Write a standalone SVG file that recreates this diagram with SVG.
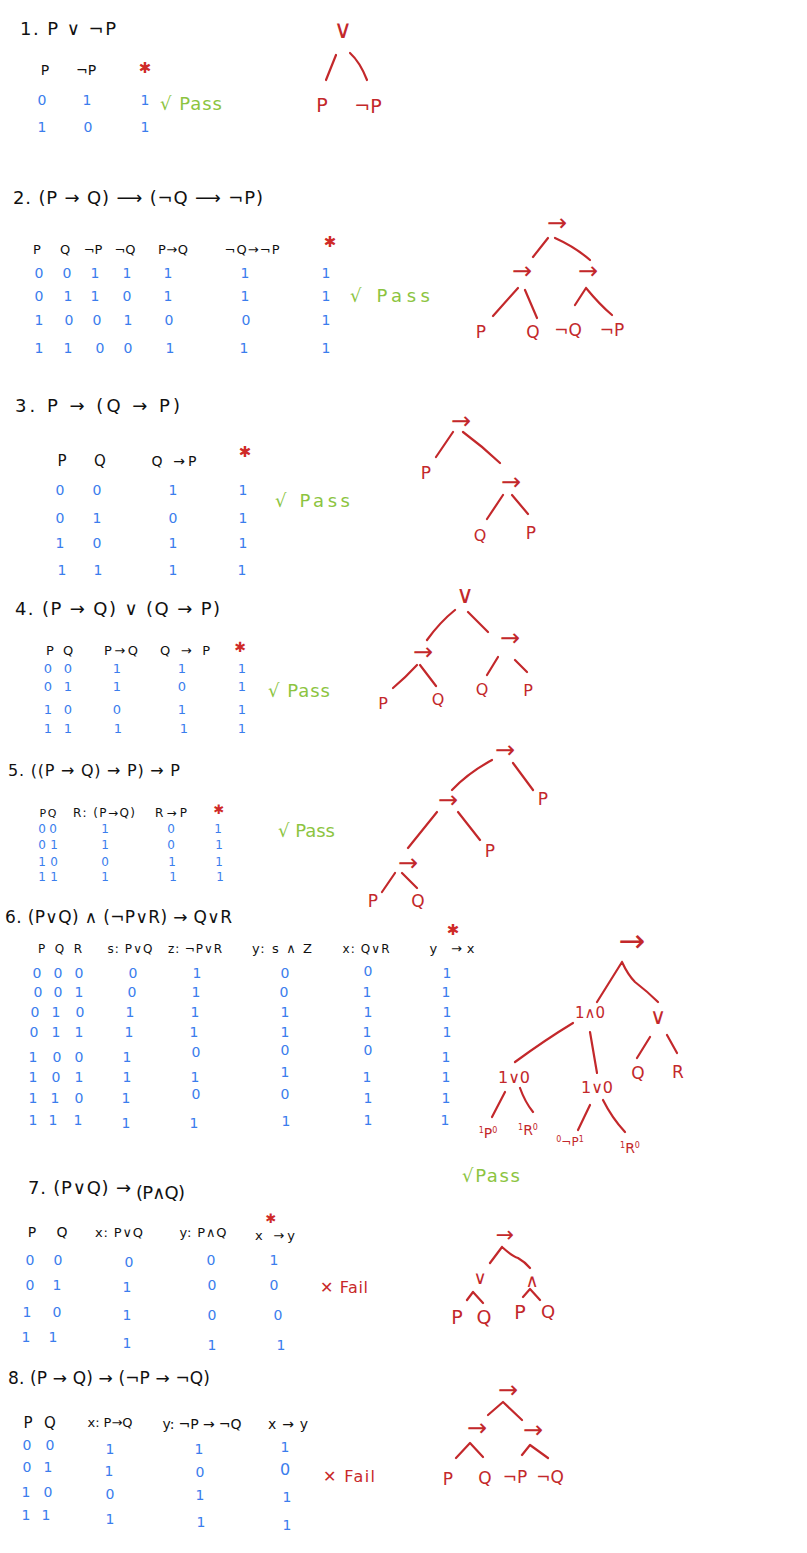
<svg xmlns="http://www.w3.org/2000/svg" width="807" height="1553" viewBox="0 0 807 1553">
<style>
text{font-family:"DejaVu Sans","Liberation Sans",sans-serif}
.t{fill:#111;font-size:18px}
.h{fill:#111;font-size:13px;text-anchor:middle}
.d{fill:#3b7ded;font-size:14px;text-anchor:middle}
.s{fill:#cf2a28;font-size:15px;text-anchor:middle}
.p{fill:#8cc43f;font-size:18px}
.f{fill:#c8282a;font-size:16px}
.n{fill:#c3282b;font-size:17px;text-anchor:middle}
.a{fill:#c3282b;font-size:24px;text-anchor:middle}
.e{stroke:#c3282b;stroke-width:2.2;fill:none;stroke-linecap:round;stroke-linejoin:round}
</style>
<rect width="807" height="1553" fill="#fff"/>

<!-- Section 1 -->
<g id="sec1">
<text class="t" x="20" y="35" textLength="96">1.  P ∨ ¬P</text>
<text class="h" x="45" y="75" style="font-size:14px">P</text>
<text class="h" x="86" y="75" style="font-size:14px">¬P</text>
<text class="s" x="145" y="73">✱</text>
<text class="d" x="42" y="105">0</text><text class="d" x="87" y="105">1</text><text class="d" x="145" y="105">1</text>
<text class="d" x="42" y="132">1</text><text class="d" x="88" y="132">0</text><text class="d" x="145" y="132">1</text>
<text class="p" x="160" y="110" textLength="62">√ Pass</text>
</g>

<!-- Section 2 -->
<g id="sec2">
<text class="t" x="13" y="204" textLength="250">2. (P → Q) ⟶ (¬Q ⟶ ¬P)</text>
<text class="h" x="37" y="254">P</text><text class="h" x="65" y="254">Q</text><text class="h" x="93" y="254">¬P</text><text class="h" x="125" y="254">¬Q</text>
<text class="h" x="173" y="254" textLength="30">P→Q</text><text class="h" x="252" y="254" textLength="55">¬Q→¬P</text>
<text class="s" x="330" y="247">✱</text>
<text class="d" x="39" y="278">0</text><text class="d" x="67" y="278">0</text><text class="d" x="95" y="278">1</text><text class="d" x="127" y="278">1</text><text class="d" x="168" y="278">1</text><text class="d" x="245" y="278">1</text><text class="d" x="326" y="278">1</text>
<text class="d" x="39" y="301">0</text><text class="d" x="68" y="301">1</text><text class="d" x="95" y="301">1</text><text class="d" x="127" y="301">0</text><text class="d" x="168" y="301">1</text><text class="d" x="245" y="301">1</text><text class="d" x="326" y="301">1</text>
<text class="d" x="39" y="325">1</text><text class="d" x="69" y="325">0</text><text class="d" x="97" y="325">0</text><text class="d" x="128" y="325">1</text><text class="d" x="169" y="325">0</text><text class="d" x="246" y="325">0</text><text class="d" x="326" y="325">1</text>
<text class="d" x="39" y="353">1</text><text class="d" x="68" y="353">1</text><text class="d" x="100" y="353">0</text><text class="d" x="128" y="353">0</text><text class="d" x="170" y="353">1</text><text class="d" x="244" y="353">1</text><text class="d" x="326" y="353">1</text>
<text class="p" x="350" y="302" textLength="80">√ Pass</text>
</g>

<!-- Section 3 -->
<g id="sec3">
<text class="t" x="15" y="412" textLength="165">3.  P → (Q → P)</text>
<text class="h" x="62" y="466" style="font-size:15px">P</text><text class="h" x="100" y="466" style="font-size:15px">Q</text>
<text class="h" x="174" y="466" style="font-size:14px" textLength="45">Q →P</text>
<text class="s" x="245" y="457">✱</text>
<text class="d" x="60" y="495">0</text><text class="d" x="97" y="495">0</text><text class="d" x="173" y="495">1</text><text class="d" x="243" y="495">1</text>
<text class="d" x="60" y="523">0</text><text class="d" x="97" y="523">1</text><text class="d" x="173" y="523">0</text><text class="d" x="243" y="523">1</text>
<text class="d" x="60" y="548">1</text><text class="d" x="97" y="548">0</text><text class="d" x="173" y="548">1</text><text class="d" x="243" y="548">1</text>
<text class="d" x="62" y="575">1</text><text class="d" x="98" y="575">1</text><text class="d" x="173" y="575">1</text><text class="d" x="242" y="575">1</text>
<text class="p" x="275" y="507" textLength="75">√  Pass</text>
</g>

<!-- Section 4 -->
<g id="sec4">
<text class="t" x="15" y="615" textLength="205">4.  (P → Q)  ∨  (Q → P)</text>
<text class="h" x="50" y="655">P</text><text class="h" x="68" y="655">Q</text>
<text class="h" x="121" y="655" textLength="34">P→Q</text><text class="h" x="185" y="655" textLength="50">Q → P</text>
<text class="s" x="240" y="652" style="font-size:14px">✱</text>
<g class="d" style="font-size:13px">
<text x="48" y="673">0</text><text x="68" y="673">0</text><text x="117" y="673">1</text><text x="182" y="673">1</text><text x="242" y="673">1</text>
<text x="48" y="691">0</text><text x="68" y="691">1</text><text x="117" y="691">1</text><text x="182" y="691">0</text><text x="242" y="691">1</text>
<text x="48" y="714">1</text><text x="68" y="714">0</text><text x="117" y="714">0</text><text x="182" y="714">1</text><text x="242" y="714">1</text>
<text x="48" y="733">1</text><text x="68" y="733">1</text><text x="118" y="733">1</text><text x="184" y="733">1</text><text x="242" y="733">1</text>
</g>
<text class="p" x="268" y="697" textLength="62">√ Pass</text>
</g>

<!-- Section 5 -->
<g id="sec5">
<text class="t" x="8" y="776" style="font-size:16px" textLength="172">5.  ((P → Q) → P) → P</text>
<text class="h" x="48" y="817" style="font-size:11px" textLength="17">P Q</text>
<text class="h" x="104" y="817" style="font-size:12px" textLength="62">R: (P→Q)</text>
<text class="h" x="171" y="817" style="font-size:12px" textLength="32">R→P</text>
<text class="s" x="219" y="814" style="font-size:13px">✱</text>
<g class="d" style="font-size:12px">
<text x="42" y="833">0</text><text x="53" y="833">0</text><text x="105" y="833">1</text><text x="171" y="833">0</text><text x="218" y="833">1</text>
<text x="42" y="849">0</text><text x="54" y="849">1</text><text x="105" y="849">1</text><text x="171" y="849">0</text><text x="219" y="849">1</text>
<text x="42" y="866">1</text><text x="54" y="866">0</text><text x="105" y="866">0</text><text x="172" y="866">1</text><text x="219" y="866">1</text>
<text x="42" y="881">1</text><text x="54" y="881">1</text><text x="105" y="881">1</text><text x="173" y="881">1</text><text x="220" y="881">1</text>
</g>
<text class="p" x="278" y="837" textLength="57">√ Pass</text>
</g>

<!-- Section 6 -->
<g id="sec6">
<text class="t" x="5" y="923" style="font-size:17px" textLength="227">6.  (P∨Q) ∧ (¬P∨R) → Q∨R</text>
<text class="h" x="60" y="953" style="font-size:12px" textLength="44">P Q R</text>
<text class="h" x="130" y="953" style="font-size:12px" textLength="45">s: P∨Q</text>
<text class="h" x="195" y="953" style="font-size:12px" textLength="54">z: ¬P∨R</text>
<text class="h" x="282" y="953" style="font-size:13px" textLength="60">y: s ∧ Z</text>
<text class="h" x="366" y="953" style="font-size:12px" textLength="47">x: Q∨R</text>
<text class="h" x="452" y="953" style="font-size:13px" textLength="45">y →x</text>
<text class="s" x="453" y="935">✱</text>
<g class="d" style="font-size:14px">
<text x="37" y="978">0</text><text x="58" y="978">0</text><text x="79" y="978">0</text><text x="133" y="978">0</text><text x="197" y="978">1</text><text x="285" y="978">0</text><text x="368" y="976">0</text><text x="447" y="978">1</text>
<text x="38" y="997">0</text><text x="58" y="997">0</text><text x="79" y="997">1</text><text x="132" y="997">0</text><text x="196" y="997">1</text><text x="284" y="997">0</text><text x="367" y="997">1</text><text x="446" y="997">1</text>
<text x="35" y="1017">0</text><text x="56" y="1017">1</text><text x="80" y="1017">0</text><text x="130" y="1017">1</text><text x="195" y="1017">1</text><text x="285" y="1017">1</text><text x="368" y="1017">1</text><text x="447" y="1017">1</text>
<text x="34" y="1037">0</text><text x="56" y="1037">1</text><text x="79" y="1037">1</text><text x="129" y="1037">1</text><text x="194" y="1037">1</text><text x="285" y="1037">1</text><text x="367" y="1037">1</text><text x="447" y="1037">1</text>
<text x="33" y="1062">1</text><text x="57" y="1062">0</text><text x="79" y="1062">0</text><text x="127" y="1062">1</text><text x="196" y="1057">0</text><text x="285" y="1055">0</text><text x="368" y="1055">0</text><text x="446" y="1062">1</text>
<text x="33" y="1082">1</text><text x="56" y="1082">0</text><text x="79" y="1082">1</text><text x="127" y="1082">1</text><text x="195" y="1082">1</text><text x="285" y="1077">1</text><text x="367" y="1082">1</text><text x="446" y="1082">1</text>
<text x="33" y="1103">1</text><text x="55" y="1103">1</text><text x="79" y="1103">0</text><text x="126" y="1103">1</text><text x="196" y="1099">0</text><text x="285" y="1099">0</text><text x="368" y="1103">1</text><text x="446" y="1103">1</text>
<text x="33" y="1125">1</text><text x="53" y="1125">1</text><text x="78" y="1125">1</text><text x="126" y="1128">1</text><text x="194" y="1128">1</text><text x="286" y="1126">1</text><text x="368" y="1125">1</text><text x="445" y="1125">1</text>
</g>
<text class="p" x="462" y="1182" textLength="58">√Pass</text>
</g>

<!-- Section 7 -->
<g id="sec7">
<text class="t" x="28" y="1194" style="font-size:18px" textLength="103">7.   (P∨Q) →</text>
<text class="t" x="136" y="1199" style="font-size:18px" textLength="49">(P∧Q)</text>
<text class="h" x="32" y="1237" style="font-size:14px">P</text><text class="h" x="62" y="1237" style="font-size:14px">Q</text>
<text class="h" x="119" y="1237" style="font-size:13px" textLength="48">x: P∨Q</text>
<text class="h" x="203" y="1237" style="font-size:13px" textLength="47">y: P∧Q</text>
<text class="h" x="275" y="1240" style="font-size:13px" textLength="40">x →y</text>
<text class="s" x="271" y="1223" style="font-size:13px">✱</text>
<text class="d" x="30" y="1265">0</text><text class="d" x="58" y="1265">0</text><text class="d" x="129" y="1267">0</text><text class="d" x="211" y="1265">0</text><text class="d" x="274" y="1265">1</text>
<text class="d" x="30" y="1290">0</text><text class="d" x="57" y="1290">1</text><text class="d" x="127" y="1292">1</text><text class="d" x="212" y="1290">0</text><text class="d" x="274" y="1290">0</text>
<text class="d" x="27" y="1317">1</text><text class="d" x="57" y="1317">0</text><text class="d" x="127" y="1320">1</text><text class="d" x="212" y="1320">0</text><text class="d" x="278" y="1320">0</text>
<text class="d" x="26" y="1342">1</text><text class="d" x="53" y="1342">1</text><text class="d" x="127" y="1348">1</text><text class="d" x="212" y="1350">1</text><text class="d" x="281" y="1350">1</text>
<text class="f" x="320" y="1293" textLength="48">✕ Fail</text>
</g>

<!-- Section 8 -->
<g id="sec8">
<text class="t" x="8" y="1384" style="font-size:17px" textLength="202">8.   (P → Q) → (¬P → ¬Q)</text>
<text class="h" x="28" y="1428" style="font-size:15px">P</text><text class="h" x="50" y="1428" style="font-size:15px">Q</text>
<text class="h" x="110" y="1427" style="font-size:13px" textLength="45">x: P→Q</text>
<text class="h" x="202" y="1429" style="font-size:14px" textLength="79">y: ¬P → ¬Q</text>
<text class="h" x="288" y="1429" style="font-size:14px" textLength="40">x→y</text>
<text class="d" x="27" y="1450">0</text><text class="d" x="50" y="1450">0</text><text class="d" x="110" y="1454">1</text><text class="d" x="199" y="1454">1</text><text class="d" x="285" y="1452">1</text>
<text class="d" x="27" y="1472">0</text><text class="d" x="48" y="1472">1</text><text class="d" x="109" y="1476">1</text><text class="d" x="200" y="1477">0</text><text class="d" x="285" y="1475" style="font-size:16px">0</text>
<text class="d" x="26" y="1497">1</text><text class="d" x="48" y="1497">0</text><text class="d" x="110" y="1499">0</text><text class="d" x="200" y="1500">1</text><text class="d" x="287" y="1502">1</text>
<text class="d" x="26" y="1520">1</text><text class="d" x="46" y="1520">1</text><text class="d" x="110" y="1524">1</text><text class="d" x="201" y="1527">1</text><text class="d" x="287" y="1530">1</text>
<text class="f" x="323" y="1482" textLength="52">✕ Fail</text>
</g>

<!-- Tree connectors -->
<g id="connectors" class="e">
<path d="M336,55 L326,80 M350,53 Q360,62 367,80"/>
<path d="M548,238 L533,257 M555,238 Q575,247 590,260 M518,288 L493,316 M525,290 L537,318 M586,288 L575,305 M586,288 Q600,305 612,315"/>
<path d="M453,432 L436,457 M463,432 Q482,446 500,463 M503,495 L487,519 M512,495 L528,514"/>
<path d="M455,610 Q440,622 427,640 M468,612 L488,632 M417,665 Q405,678 393,688 M420,665 L436,686 M498,657 L487,675 M515,660 L527,672"/>
<path d="M492,760 Q468,773 452,790 M513,763 L533,790 M437,812 L408,848 M458,812 L480,840 M395,873 L382,892 M402,873 L417,888"/>
<path d="M622,962 L597,1002 M622,962 Q628,975 635,982 Q648,992 658,1002 M650,1037 L637,1058 M667,1035 L677,1053 M573,1023 Q545,1040 515,1062 M590,1032 L597,1073 M505,1092 L492,1117 M520,1088 Q525,1102 533,1112 M590,1105 L578,1130 M603,1100 Q612,1118 625,1132"/>
<path d="M502,1247 L490,1263 M502,1247 Q512,1256 518,1258 Q525,1262 530,1268 M467,1300 L473,1292 L483,1303 M523,1297 L530,1289 L540,1300"/>
<path d="M488,1415 L503,1402 L522,1420 M456,1458 L470,1443 L483,1457 M522,1455 L530,1445 L548,1458"/>
</g>

<!-- Tree 1 -->
<g id="t1-root"><text class="n" x="343" y="38" style="font-size:25px">∨</text></g>
<g id="t1-p"><text class="n" x="322" y="112" style="font-size:19px">P</text></g>
<g id="t1-np"><text class="n" x="368" y="113" style="font-size:19px">¬P</text></g>

<!-- Tree 2 -->
<g id="t2-root"><text class="a" x="557" y="231">→</text></g>
<g id="t2-l"><text class="a" x="522" y="279">→</text></g>
<g id="t2-r"><text class="a" x="588" y="279">→</text></g>
<g id="t2-p"><text class="n" x="481" y="338">P</text></g>
<g id="t2-q"><text class="n" x="533" y="338">Q</text></g>
<g id="t2-nq"><text class="n" x="568" y="336">¬Q</text></g>
<g id="t2-np"><text class="n" x="612" y="336">¬P</text></g>

<!-- Tree 3 -->
<g id="t3-root"><text class="a" x="461" y="429">→</text></g>
<g id="t3-p"><text class="n" x="426" y="479">P</text></g>
<g id="t3-r"><text class="a" x="511" y="490">→</text></g>
<g id="t3-q"><text class="n" x="480" y="541" style="font-size:16px">Q</text></g>
<g id="t3-p2"><text class="n" x="531" y="539">P</text></g>

<!-- Tree 4 -->
<g id="t4-root"><text class="n" x="465" y="603" style="font-size:24px">∨</text></g>
<g id="t4-l"><text class="a" x="423" y="660">→</text></g>
<g id="t4-r"><text class="a" x="510" y="646">→</text></g>
<g id="t4-p"><text class="n" x="383" y="709" style="font-size:16px">P</text></g>
<g id="t4-q"><text class="n" x="438" y="705" style="font-size:16px">Q</text></g>
<g id="t4-q2"><text class="n" x="482" y="695" style="font-size:16px">Q</text></g>
<g id="t4-p2"><text class="n" x="528" y="696" style="font-size:16px">P</text></g>

<!-- Tree 5 -->
<g id="t5-root"><text class="a" x="505" y="758">→</text></g>
<g id="t5-p1"><text class="n" x="543" y="805">P</text></g>
<g id="t5-m"><text class="a" x="448" y="808">→</text></g>
<g id="t5-p2"><text class="n" x="490" y="857">P</text></g>
<g id="t5-b"><text class="a" x="408" y="871">→</text></g>
<g id="t5-p3"><text class="n" x="373" y="907">P</text></g>
<g id="t5-q"><text class="n" x="418" y="907">Q</text></g>

<!-- Tree 6 -->
<g id="t6-root"><text class="a" x="632" y="952" style="font-size:32px">→</text></g>
<g id="t6-and"><text class="n" x="590" y="1018" style="font-size:15px">1∧0</text></g>
<g id="t6-or"><text class="n" x="658" y="1024" style="font-size:22px">∨</text></g>
<g id="t6-q"><text class="n" x="638" y="1079">Q</text></g>
<g id="t6-r"><text class="n" x="678" y="1078">R</text></g>
<g id="t6-or1"><text class="n" x="514" y="1083" style="font-size:16px">1∨0</text></g>
<g id="t6-or2"><text class="n" x="597" y="1093" style="font-size:16px">1∨0</text></g>
<g id="t6-p"><text class="n" x="488" y="1138" style="font-size:14px"><tspan style="font-size:8px" dy="-5">1</tspan><tspan dy="5">P</tspan><tspan style="font-size:8px" dy="-5">0</tspan></text></g>
<g id="t6-r1"><text class="n" x="528" y="1135" style="font-size:14px"><tspan style="font-size:8px" dy="-5">1</tspan><tspan dy="5">R</tspan><tspan style="font-size:8px" dy="-5">0</tspan></text></g>
<g id="t6-np"><text class="n" x="570" y="1146" style="font-size:12px"><tspan style="font-size:8px" dy="-4">0</tspan><tspan dy="4">¬P</tspan><tspan style="font-size:8px" dy="-4">1</tspan></text></g>
<g id="t6-r2"><text class="n" x="630" y="1153" style="font-size:14px"><tspan style="font-size:8px" dy="-5">1</tspan><tspan dy="5">R</tspan><tspan style="font-size:8px" dy="-5">0</tspan></text></g>

<!-- Tree 7 -->
<g id="t7-root"><text class="a" x="505" y="1242" style="font-size:22px">→</text></g>
<g id="t7-or"><text class="n" x="480" y="1284" style="font-size:18px">∨</text></g>
<g id="t7-and"><text class="n" x="532" y="1287" style="font-size:18px">∧</text></g>
<g id="t7-p"><text class="n" x="457" y="1324" style="font-size:19px">P</text></g>
<g id="t7-q"><text class="n" x="484" y="1324" style="font-size:19px">Q</text></g>
<g id="t7-p2"><text class="n" x="520" y="1319" style="font-size:19px">P</text></g>
<g id="t7-q2"><text class="n" x="548" y="1318" style="font-size:18px">Q</text></g>

<!-- Tree 8 -->
<g id="t8-root"><text class="a" x="508" y="1398">→</text></g>
<g id="t8-l"><text class="a" x="477" y="1436">→</text></g>
<g id="t8-r"><text class="a" x="533" y="1438">→</text></g>
<g id="t8-p"><text class="n" x="448" y="1485">P</text></g>
<g id="t8-q"><text class="n" x="485" y="1484">Q</text></g>
<g id="t8-np"><text class="n" x="515" y="1483">¬P</text></g>
<g id="t8-nq"><text class="n" x="550" y="1483">¬Q</text></g>
</svg>
